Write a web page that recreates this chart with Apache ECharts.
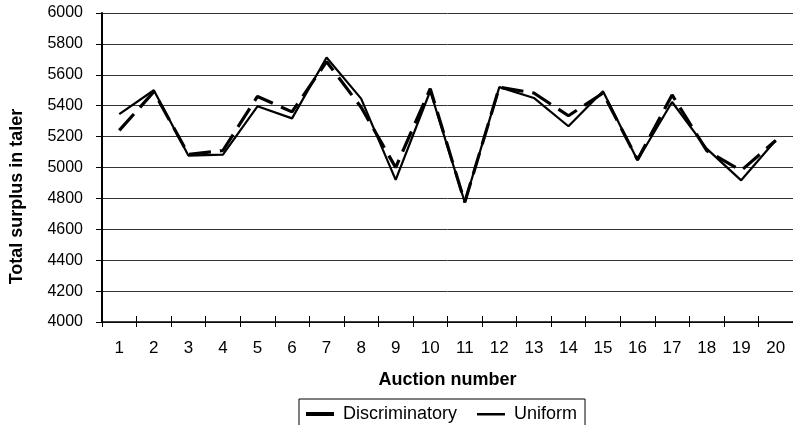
<!DOCTYPE html>
<html>
<head>
<meta charset="utf-8">
<script src="https://cdn.jsdelivr.net/npm/echarts@6/dist/echarts.min.js"></script>
<style>
html,body{margin:0;padding:0;background:#fff;}
#c{width:793px;height:425px;}
</style>
</head>
<body>
<div id="c"></div>
<script>
var categories = ['1','2','3','4','5','6','7','8','9','10','11','12','13','14','15','16','17','18','19','20'];
var discriminatory = [5240, 5490, 5085, 5110, 5460, 5360, 5685, 5390, 5000, 5510, 4775, 5520, 5482, 5335, 5482, 5050, 5470, 5110, 4980, 5175];
var uniform = [5345, 5500, 5077, 5083, 5396, 5318, 5712, 5446, 4920, 5495, 4775, 5520, 5450, 5267, 5493, 5047, 5424, 5122, 4917, 5176];
var yMin = 4000, yMax = 6000, yStep = 200;

var chart = echarts.init(document.getElementById('c'), null, {renderer:'canvas'});
var F = '"Liberation Sans", Arial, sans-serif';
chart.setOption({
  animation: false,
  backgroundColor: '#fff',
  grid: {left: 102, top: 13, width: 696, height: 309},
  legend: {
    left: 299, top: 399,
    padding: [6, 8, 6, 7],
    borderColor: '#000', borderWidth: 1,
    itemWidth: 28, itemHeight: 14, itemGap: 20,
    textStyle: {fontFamily: F, fontSize: 18, color: '#000', padding: [0,0,0,4]},
    data: [
      {name: 'Discriminatory', icon: 'path://M0,0L0,0M0,5L28,5L28,9L0,9ZM28,14L28,14', itemStyle: {color: '#000', borderWidth: 0}},
      {name: 'Uniform', icon: 'path://M0,0L0,0M0,6L28,6L28,8.5L0,8.5ZM28,14L28,14', itemStyle: {color: '#000', borderWidth: 0}}
    ]
  },
  graphic: [{
    type: 'text', x: 17.5, y: 196.5, rotation: Math.PI / 2,
    style: {text: 'Total surplus in taler', font: 'bold 18px "Liberation Sans", Arial, sans-serif', fill: '#000', align: 'center', verticalAlign: 'middle'}
  }],
  xAxis: [{
    type: 'category', data: categories, boundaryGap: true,
    name: 'Auction number', nameLocation: 'middle', nameGap: 49,
    nameTextStyle: {fontFamily: F, fontSize: 18, fontWeight: 'bold', color: '#000'},
    axisLine: {lineStyle: {color: '#000', width: 1.5}},
    axisTick: {show: true, interval: 0, length: 5, lineStyle: {color: '#000'}},
    axisLabel: {interval: 0, margin: 18, fontFamily: F, fontSize: 17, color: '#000'},
    splitLine: {show: false}
  }, {
    type: 'category', data: categories, boundaryGap: true, position: 'bottom',
    axisLine: {show: false},
    axisTick: {show: true, inside: true, interval: 0, length: 6, lineStyle: {color: '#000'}},
    axisLabel: {show: false}, splitLine: {show: false}
  }],
  yAxis: {
    type: 'value', min: yMin, max: yMax, interval: yStep,
    axisLine: {show: true, lineStyle: {color: '#000', width: 2}},
    axisTick: {show: true, length: 6, lineStyle: {color: '#000'}},
    axisLabel: {margin: 19, fontFamily: F, fontSize: 16, color: '#000', formatter: function (v) { return String(v); }},
    splitLine: {show: true, lineStyle: {color: '#333', width: 1}}
  },
  series: [
    {
      name: 'Discriminatory', type: 'line', data: discriminatory, xAxisIndex: 0,
      symbol: 'none', z: 3,
      lineStyle: {color: '#000', width: 3.2, type: [22, 9]},
      itemStyle: {color: '#000'}
    },
    {
      name: 'Uniform', type: 'line', data: uniform, xAxisIndex: 0,
      symbol: 'none', z: 4,
      lineStyle: {color: '#000', width: 2.2, type: 'solid'},
      itemStyle: {color: '#000'}
    }
  ]
});
</script>
</body>
</html>
